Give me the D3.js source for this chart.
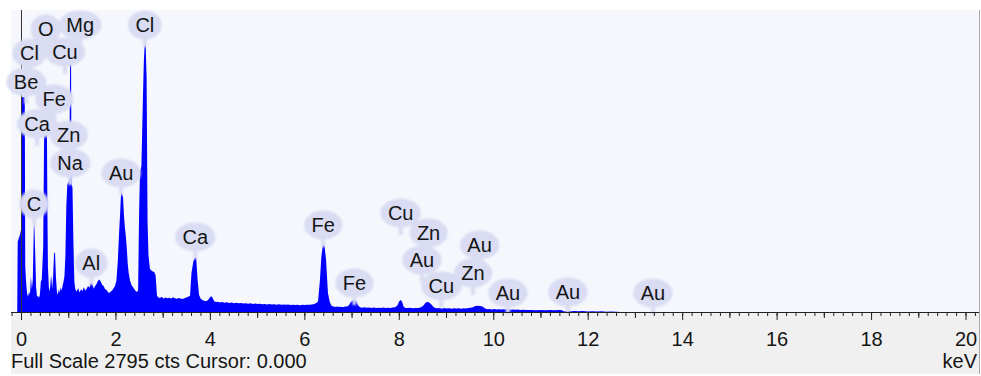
<!DOCTYPE html>
<html>
<head>
    <title>EDS Spectrum</title>
    <style>
        body {
            margin: 0;
            background-color: white;
        }

        #chart text {
            font-family: "Liberation Sans", Arial, sans-serif;
            fill: #151515;
        }
    </style>
    <script src="https://d3js.org/d3.v7.min.js"></script>
</head>

<body>
    <div id="chart"></div>

    <script>
        // spectrum: [keV, counts]
        var spectrum = [
            [-0.08, 0], [-0.07, 650], [-0.02, 720], [0.00, 760], [0.01, 1990], [0.08, 1990], [0.09, 420],
            [0.11, 260], [0.13, 170], [0.15, 140], [0.17, 190], [0.19, 160], [0.21, 330], [0.23, 210],
            [0.25, 300], [0.27, 760], [0.28, 833], [0.30, 560], [0.32, 230], [0.34, 140], [0.36, 150],
            [0.38, 130], [0.40, 160], [0.42, 280], [0.44, 300], [0.47, 600], [0.49, 1650], [0.51, 1660],
            [0.52, 2175], [0.53, 1680], [0.55, 1620], [0.56, 900], [0.57, 420], [0.59, 230], [0.61, 190],
            [0.63, 300], [0.64, 340], [0.66, 210], [0.68, 330], [0.70, 540], [0.72, 555], [0.74, 320],
            [0.76, 190], [0.78, 160], [0.80, 210], [0.82, 180], [0.84, 230], [0.86, 200], [0.88, 240],
            [0.90, 280], [0.92, 330], [0.94, 520], [0.96, 980], [0.98, 1180], [1.00, 1200], [1.02, 1215],
            [1.04, 2305], [1.06, 2290], [1.07, 1190], [1.09, 1150], [1.11, 650], [1.13, 280], [1.15, 210],
            [1.18, 190], [1.21, 220], [1.24, 180], [1.27, 210], [1.30, 195], [1.33, 230], [1.36, 200],
            [1.39, 215], [1.42, 240], [1.45, 225], [1.48, 280], [1.51, 260], [1.54, 215], [1.57, 240],
            [1.60, 260], [1.63, 290], [1.66, 300], [1.69, 280], [1.72, 250], [1.75, 240], [1.78, 210],
            [1.81, 205], [1.84, 185], [1.87, 175], [1.90, 190], [1.93, 200], [1.96, 220], [1.99, 240],
            [2.02, 290], [2.05, 470], [2.08, 760], [2.10, 920], [2.12, 1110], [2.14, 1095], [2.16, 1060],
            [2.18, 900], [2.20, 780], [2.22, 700], [2.24, 590], [2.26, 450], [2.28, 360], [2.31, 290],
            [2.34, 250], [2.38, 225], [2.42, 200], [2.45, 185], [2.48, 200], [2.50, 900], [2.52, 1300],
            [2.55, 1350], [2.58, 1950], [2.60, 2300], [2.62, 2490], [2.64, 2460], [2.66, 2165], [2.68, 833],
            [2.70, 520], [2.73, 400], [2.76, 385], [2.79, 375], [2.82, 370], [2.85, 340], [2.88, 150],
            [2.91, 135], [2.94, 130], [2.98, 140], [3.02, 125], [3.06, 135], [3.10, 128], [3.14, 132],
            [3.18, 124], [3.22, 136], [3.26, 128], [3.30, 122], [3.34, 130], [3.38, 126], [3.42, 120],
            [3.46, 128], [3.50, 135], [3.54, 140], [3.58, 150], [3.61, 360], [3.65, 470], [3.69, 512],
            [3.71, 500], [3.74, 296], [3.77, 160], [3.80, 127], [3.84, 110], [3.88, 105], [3.92, 100],
            [3.96, 110], [4.00, 135], [4.03, 145], [4.06, 130], [4.09, 100], [4.13, 92], [4.17, 95],
            [4.21, 88], [4.26, 92], [4.31, 85], [4.36, 90], [4.41, 84], [4.46, 88], [4.51, 82], [4.56, 86],
            [4.61, 80], [4.66, 84], [4.71, 78], [4.76, 82], [4.81, 76], [4.86, 80], [4.91, 75], [4.96, 78],
            [5.01, 74], [5.06, 77], [5.11, 72], [5.16, 75], [5.21, 70], [5.26, 74], [5.31, 70], [5.36, 72],
            [5.41, 68], [5.46, 72], [5.51, 67], [5.56, 70], [5.61, 66], [5.66, 69], [5.71, 65], [5.76, 68],
            [5.81, 64], [5.86, 67], [5.91, 63], [5.96, 66], [6.01, 64], [6.06, 68], [6.11, 66], [6.16, 70],
            [6.21, 75], [6.26, 85], [6.29, 100], [6.33, 296], [6.36, 512], [6.39, 610], [6.41, 636],
            [6.43, 600], [6.46, 481], [6.50, 173], [6.54, 90], [6.58, 55], [6.62, 50], [6.66, 47],
            [6.70, 50], [6.74, 46], [6.78, 48], [6.82, 45], [6.86, 50], [6.90, 52], [6.94, 60], [6.98, 90],
            [7.02, 105], [7.06, 111], [7.10, 100], [7.14, 60], [7.18, 45], [7.22, 40], [7.27, 43],
            [7.32, 39], [7.37, 42], [7.42, 38], [7.47, 41], [7.52, 37], [7.57, 40], [7.62, 38], [7.67, 41],
            [7.72, 37], [7.77, 40], [7.82, 38], [7.87, 42], [7.92, 45], [7.97, 60], [8.01, 100], [8.04, 111],
            [8.07, 95], [8.10, 50], [8.14, 38], [8.19, 36], [8.24, 39], [8.29, 35], [8.34, 38], [8.39, 36],
            [8.44, 40], [8.49, 48], [8.53, 65], [8.57, 88], [8.61, 93], [8.65, 85], [8.69, 70], [8.73, 48],
            [8.77, 38], [8.82, 34], [8.87, 37], [8.92, 33], [8.97, 36], [9.02, 32], [9.07, 35], [9.12, 31],
            [9.17, 34], [9.22, 32], [9.27, 35], [9.32, 31], [9.37, 34], [9.42, 32], [9.47, 36], [9.52, 40],
            [9.57, 45], [9.62, 55], [9.67, 58], [9.72, 56], [9.77, 50], [9.82, 35], [9.87, 26], [9.92, 28],
            [9.97, 24], [10.02, 27], [10.07, 23], [10.12, 26], [10.17, 22], [10.22, 25], [10.27, 22],
            [10.32, 24], [10.37, 21], [10.42, 23], [10.47, 20], [10.52, 22], [10.57, 19], [10.62, 20],
            [10.70, 18], [10.80, 19], [10.90, 17], [11.00, 18], [11.10, 17], [11.20, 18], [11.30, 16],
            [11.40, 18], [11.46, 17], [11.48, 6], [11.55, 8], [11.60, 12], [11.65, 7], [11.72, 10],
            [11.80, 6], [11.90, 9], [12.00, 5], [12.10, 7], [12.20, 4], [12.30, 6], [12.40, 3],
            [12.50, 5], [12.60, 3], [12.70, 0], [20.30, 0]
        ];

        // peak labels: element, line energy (keV), height of the bubble (counts)
        var labelNames = ["O", "Mg", "Cl", "Cu", "Cl", "Be", "Fe", "Ca", "Zn", "Na", "Au", "C", "Al",
            "Ca", "Fe", "Cu", "Zn", "Au", "Au", "Zn", "Fe", "Cu", "Au", "Au", "Au"];
        var labelKeV = [0.525, 1.254, 0.18, 0.93, 2.622, 0.108, 0.705, 0.341, 1.012, 1.041, 2.12, 0.277, 1.487,
            3.69, 6.40, 8.04, 8.63, 9.71, 8.49, 9.57, 7.06, 8.90, 10.31, 11.58, 13.38];
        var labelCts = [2619, 2656, 2397, 2406, 2656, 2129, 1971, 1740, 1638, 1379, 1286, 1000, 453,
            694, 805, 916, 731, 620, 481, 361, 268, 241, 176, 185, 176];

        var majorTicks = [0, 2, 4, 6, 8, 10, 12, 14, 16, 18, 20];
        var tickLabels = ["0", "2", "4", "6", "8", "10", "12", "14", "16", "18", "20"];
        var oddTicks = [1, 3, 5, 7, 9, 11, 13, 15, 17, 19];
        var fullScale = 2795;
        var cursorKeV = 0.000;

        var width = 981, height = 376;
        var plot = { left: 11, right: 980, top: 10, bottom: 312, foot: 374 };

        var svg = d3.select("#chart").append("svg")
            .attr("width", width)
            .attr("height", height);

        // soft edges for the label bubbles
        var defs = svg.append("defs");
        defs.append("filter").attr("id", "soft")
            .attr("x", "-30%").attr("y", "-30%").attr("width", "160%").attr("height", "160%")
            .append("feGaussianBlur").attr("stdDeviation", 1.2);
        defs.append("clipPath").attr("id", "clip")
            .append("rect")
            .attr("x", plot.left).attr("y", plot.top)
            .attr("width", plot.right - plot.left).attr("height", plot.bottom - plot.top);

        // panel backgrounds
        svg.append("rect")
            .attr("x", plot.left).attr("y", plot.top)
            .attr("width", plot.right - plot.left).attr("height", plot.foot - plot.top)
            .attr("fill", "#f0f0f0");
        svg.append("rect")
            .attr("x", plot.left).attr("y", plot.top)
            .attr("width", plot.right - plot.left).attr("height", plot.bottom - plot.top)
            .attr("fill", "#f5f7fd");

        var x = d3.scaleLinear()
            .domain([0, 20])
            .range([21, 965.5]);

        var y = d3.scaleLinear()
            .domain([0, fullScale])
            .range([plot.bottom, plot.top]);

        // the spectrum itself
        svg.append("path")
            .datum(spectrum)
            .attr("clip-path", "url(#clip)")
            .attr("fill", "#0000ff")
            .attr("d", d3.area()
                .x(function (d) { return x(d[0]) })
                .y0(y(0))
                .y1(function (d) { return y(d[1]) }));

        // cursor line
        svg.append("line")
            .attr("x1", Math.round(x(cursorKeV)) + 0.5).attr("x2", Math.round(x(cursorKeV)) + 0.5)
            .attr("y1", plot.top).attr("y2", plot.bottom)
            .attr("stroke", "#333").attr("stroke-width", 1);

        // label bubbles: draw text first so it can be measured, then bubbles under it
        var labels = svg.append("g");
        var bubbles = labels.append("g").attr("filter", "url(#soft)");
        var texts = labels.append("g");

        labelNames.forEach(function (name, i) {
            var cx = x(labelKeV[i]);
            var cy = y(labelCts[i]);
            var t = texts.append("text")
                .attr("x", cx)
                .attr("y", cy)
                .attr("dy", "0.36em")
                .attr("text-anchor", "middle")
                .style("font-size", "20px")
                .text(name);
            var w = t.node().getComputedTextLength();
            bubbles.append("rect")
                .attr("x", cx - 2).attr("y", cy + 8)
                .attr("width", 4).attr("height", 14)
                .attr("fill", "#d9dcf2");
            bubbles.append("ellipse")
                .attr("cx", cx).attr("cy", cy)
                .attr("rx", w / 2 + 7.5).attr("ry", 14.5)
                .attr("fill", "#d9dcf2");
        });

        // axis: minor every 0.2 keV, medium on odd keV, long + labels on even keV
        var minorTicks = d3.range(-1, 102).map(function (i) { return i * 0.2 });

        var minorAxis = svg.append("g")
            .attr("transform", "translate(0," + plot.bottom + ")")
            .call(d3.axisBottom(x).tickValues(minorTicks).tickSize(4).tickFormat(""));
        var oddAxis = svg.append("g")
            .attr("transform", "translate(0," + plot.bottom + ")")
            .call(d3.axisBottom(x).tickValues(oddTicks).tickSize(6).tickFormat(""));
        var majorAxis = svg.append("g")
            .attr("transform", "translate(0," + plot.bottom + ")")
            .call(d3.axisBottom(x).tickValues(majorTicks).tickSize(8)
                .tickFormat(function (d, i) { return tickLabels[i] }));

        [minorAxis, oddAxis, majorAxis].forEach(function (a) {
            a.select(".domain").remove();
            a.selectAll("line").attr("stroke", "#222");
        });
        majorAxis.selectAll("text")
            .attr("y", 20)
            .style("font-size", "20px")
            .attr("fill", "#151515");

        svg.append("line")
            .attr("x1", plot.left).attr("x2", plot.right)
            .attr("y1", plot.bottom + 0.5).attr("y2", plot.bottom + 0.5)
            .attr("stroke", "#222").attr("stroke-width", 1.2);

        // right edge of the panel
        svg.append("line")
            .attr("x1", plot.right - 0.5).attr("x2", plot.right - 0.5)
            .attr("y1", plot.top).attr("y2", plot.foot)
            .attr("stroke", "#a8a8a8");

        // footer texts
        svg.append("text")
            .attr("x", 11).attr("y", 368)
            .style("font-size", "20px")
            .text("Full Scale " + fullScale + " cts Cursor: " + cursorKeV.toFixed(3));
        svg.append("text")
            .attr("x", 977).attr("y", 368)
            .attr("text-anchor", "end")
            .style("font-size", "20px")
            .text("keV");
    </script>
</body>
</html>
